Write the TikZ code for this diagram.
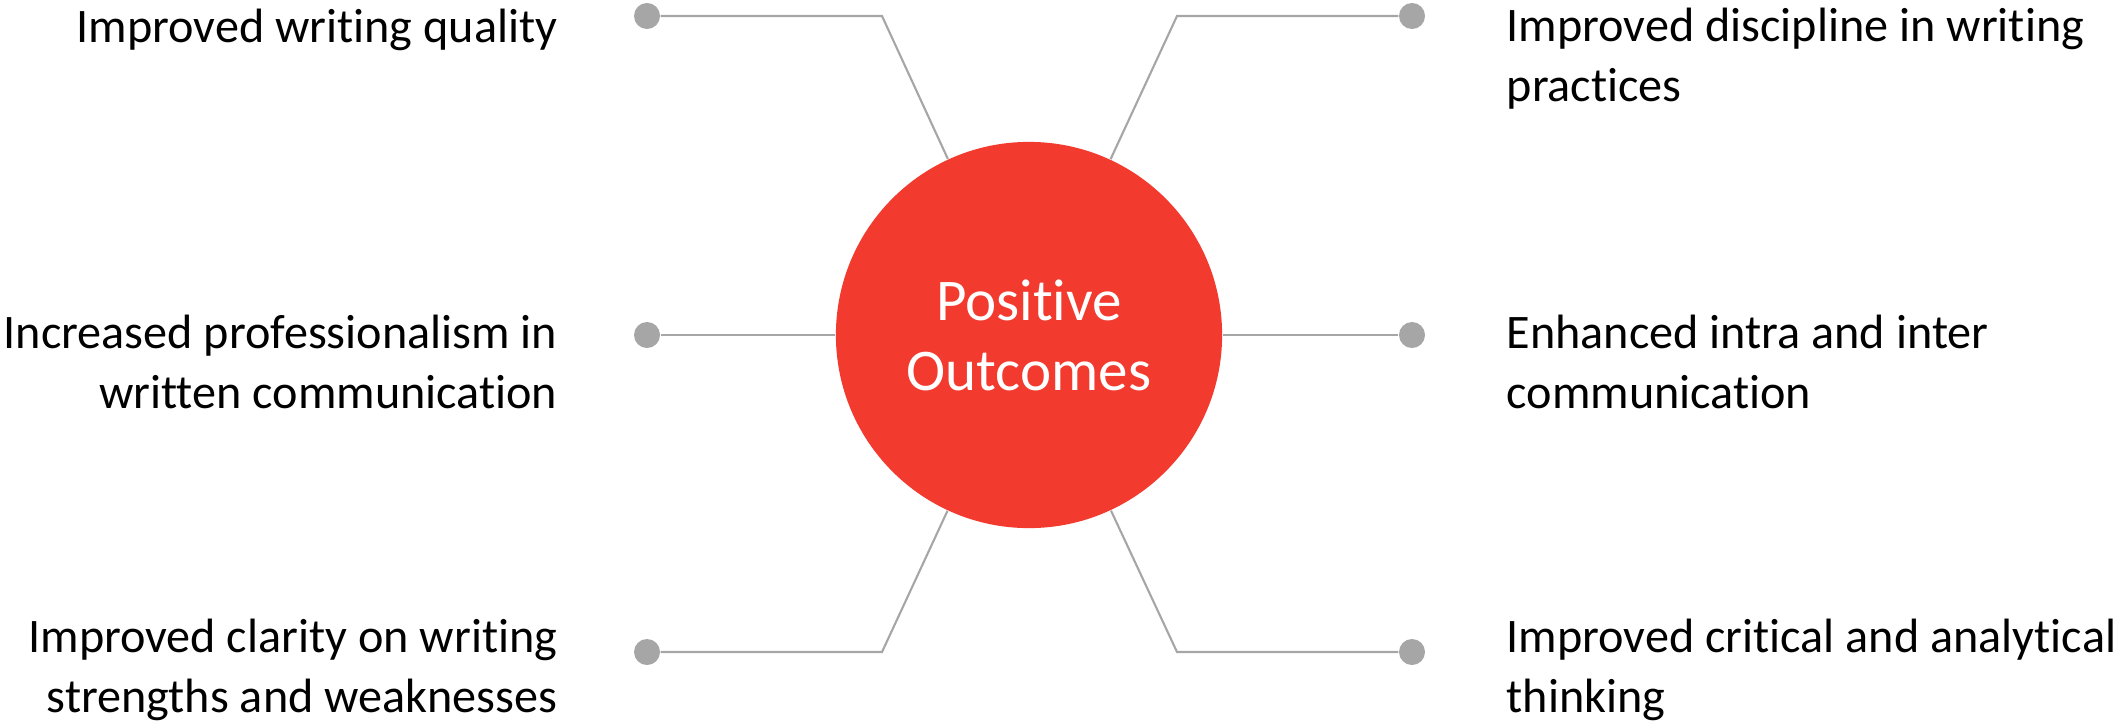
\documentclass[tikz,border=0pt]{standalone}
\usepackage{fontspec}
\setmainfont{Carlito}[Ligatures=NoCommon]
\definecolor{outcomered}{RGB}{243,58,47}
\definecolor{spokegray}{RGB}{166,166,166}
\tikzset{
  hub/.style={circle, fill=outcomered, minimum size=3.86cm, inner sep=0pt,
    text=white, align=center, font=\fontsize{16.8}{19.9}\selectfont},
  pin/.style={circle, fill=spokegray, minimum size=0.26cm, inner sep=0pt},
  spoke/.style={draw=spokegray, line width=0.6pt},
  leftlabel/.style={anchor=base east, align=right, inner sep=0pt,
    font=\fontsize{13.7}{16.8}\selectfont},
  rightlabel/.style={anchor=base west, align=left, inner sep=0pt,
    font=\fontsize{13.7}{16.8}\selectfont}
}

\begin{document}
\begin{tikzpicture}[x=0.01cm, y=-0.01cm]
  \useasboundingbox (0,0) rectangle (2118,721);

  \node [hub] (outcomes) at (1029,335) {Positive\\Outcomes};

  % pins on the left and right
  \node [pin] (qualitydot) at (647,16) {};
  \node [pin] (profdot) at (647,335) {};
  \node [pin] (claritydot) at (647,652) {};
  \node [pin] (disciplinedot) at (1412,16) {};
  \node [pin] (commdot) at (1412,335) {};
  \node [pin] (criticaldot) at (1412,652) {};

  \coordinate (qualitybend) at (882,16);
  \coordinate (claritybend) at (882,652);
  \coordinate (disciplinebend) at (1177,16);
  \coordinate (criticalbend) at (1177,652);

  \draw [spoke] (qualitydot) -- (qualitybend) -- (outcomes);
  \draw [spoke] (profdot) -- (outcomes);
  \draw [spoke] (claritydot) -- (claritybend) -- (outcomes);
  \draw [spoke] (disciplinedot) -- (disciplinebend) -- (outcomes);
  \draw [spoke] (commdot) -- (outcomes);
  \draw [spoke] (criticaldot) -- (criticalbend) -- (outcomes);

  % labels (base = last line)
  \node [leftlabel] (quality) at (558,42) {Improved writing quality};
  \node [leftlabel] (prof) at (558,408) {Increased professionalism in\\written communication};
  \node [leftlabel] (clarity) at (558,712) {Improved clarity on writing\\strengths and weaknesses};
  \node [rightlabel] (discipline) at (1506,101) {Improved discipline in writing\\practices};
  \node [rightlabel] (comm) at (1506,408) {Enhanced intra and inter\\communication};
  \node [rightlabel] (critical) at (1506,712) {Improved critical and analytical\\thinking};
\end{tikzpicture}
\end{document}
